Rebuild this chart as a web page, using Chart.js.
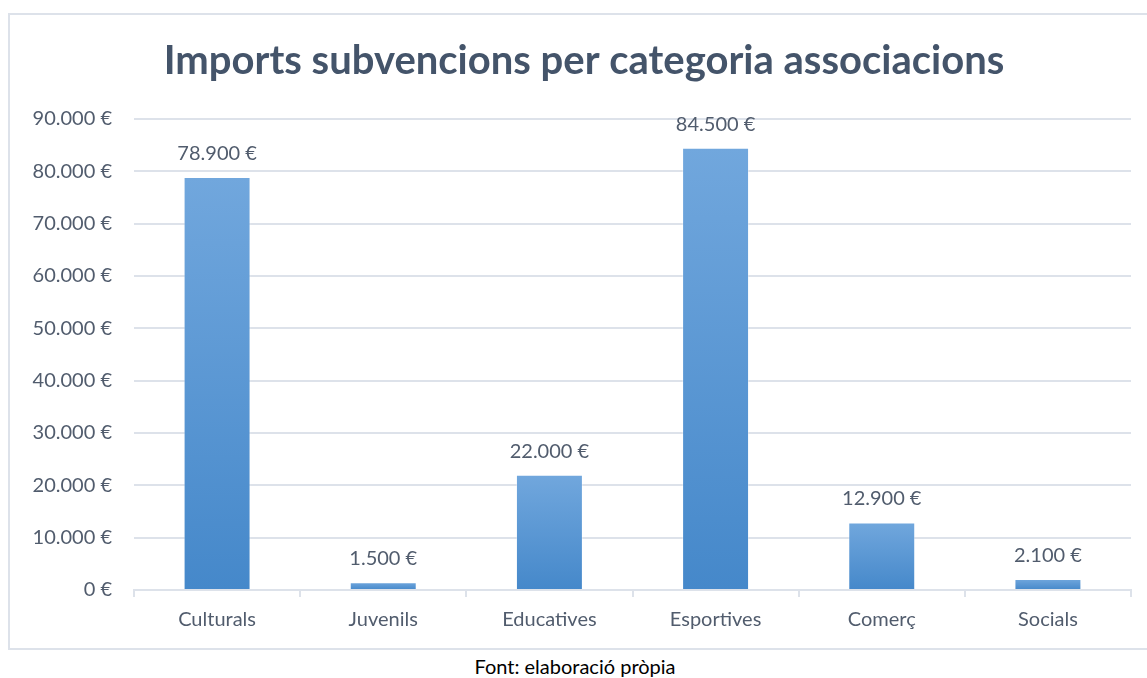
<!DOCTYPE html>
<html>
<head>
<meta charset="utf-8">
<script src="https://cdn.jsdelivr.net/npm/chart.js@4"></script>
<style>
  html, body { margin: 0; padding: 0; background: #ffffff; }
  #wrap { position: relative; width: 1147px; height: 678px; overflow: hidden; }
  #frame { position: absolute; left: 8px; top: 13px; width: 1160px; height: 637px; border: 2px solid #dde2ea; box-sizing: border-box; }
  #chart { position: absolute; left: 0; top: 0; }
  #source { position: absolute; left: 0; width: 1150px; top: 654px; text-align: center; font-family: Lato, "Open Sans", sans-serif; font-size: 20px; color: #000; }
</style>
</head>
<body>
<div id="wrap">
  <div id="frame"></div>
  <canvas id="chart" width="1168" height="652"></canvas>
  <div id="source">Font: elaboració pròpia</div>
</div>
<script>
const categories = ["Culturals", "Juvenils", "Educatives", "Esportives", "Comerç", "Socials"];
const imports = [78900, 1500, 22000, 84500, 12900, 2100];
const titleText = "Imports subvencions per categoria associacions";
const yMin = 0, yMax = 90000, yStep = 10000;

const textColor = "#515c6d";
const gridColor = "#dde2ea";
const fontFamily = "Lato, 'Open Sans', sans-serif";

function euro(v) {
  const s = Math.round(v).toString().replace(/\B(?=(\d{3})+(?!\d))/g, ".");
  return s + "\u00a0€";
}

const valueLabels = {
  id: "valueLabels",
  afterDatasetsDraw(chart) {
    const ctx = chart.ctx;
    const meta = chart.getDatasetMeta(0);
    ctx.save();
    ctx.font = "20px " + fontFamily;
    ctx.fillStyle = textColor;
    ctx.textAlign = "center";
    ctx.textBaseline = "alphabetic";
    meta.data.forEach((bar, i) => {
      ctx.fillText(euro(chart.data.datasets[0].data[i]), bar.x, bar.y - 17);
    });
    ctx.restore();
  }
};

function barGradient(context) {
  const chart = context.chart;
  if (!chart.chartArea || context.raw === undefined) return "#5a97d3";
  const y = chart.scales.y;
  const top = y.getPixelForValue(context.raw);
  const base = y.getPixelForValue(0);
  if (!isFinite(top) || !isFinite(base) || Math.abs(base - top) < 1) return "#5a97d3";
  const g = chart.ctx.createLinearGradient(0, top, 0, base);
  g.addColorStop(0, "#71a7dd");
  g.addColorStop(1, "#4588ca");
  return g;
}

new Chart(document.getElementById("chart"), {
  type: "bar",
  data: {
    labels: categories,
    datasets: [{
      data: imports,
      yAxisID: "y",
      backgroundColor: barGradient,
      borderColor: "rgba(255,255,255,0.35)",
      borderWidth: 1,
      categoryPercentage: 1,
      barPercentage: 0.403
    }]
  },
  options: {
    responsive: false,
    animation: false,
    layout: { padding: { left: 0, right: 0, top: 0, bottom: 0 } },
    plugins: {
      legend: { display: false },
      tooltip: { enabled: false },
      title: {
        display: true,
        text: titleText,
        color: "#44546a",
        font: { family: fontFamily, size: 40, weight: "bold" },
        padding: { top: 37, bottom: 34 }
      }
    },
    scales: {
      x: {
        grid: { display: true, offset: true, drawOnChartArea: false, drawTicks: true, tickLength: 7, color: gridColor, lineWidth: 2 },
        border: { display: true, color: gridColor, width: 2 },
        ticks: { color: textColor, font: { family: fontFamily, size: 20 }, padding: 11 },
        afterFit(scale) { scale.height = 62; }
      },
      y: {
        position: "left",
        min: yMin, max: yMax,
        grid: { color: gridColor, lineWidth: 2, drawTicks: false },
        border: { display: false },
        ticks: { stepSize: yStep, color: textColor, font: { family: fontFamily, size: 20 }, padding: 22, callback: v => euro(v) },
        afterFit(scale) { scale.width = 134; }
      },
      spacer: {
        position: "right",
        display: true,
        grid: { display: false, drawOnChartArea: false },
        border: { display: false },
        ticks: { display: false },
        afterFit(scale) { scale.width = 37; }
      }
    }
  },
  plugins: [valueLabels]
});
</script>
</body>
</html>
